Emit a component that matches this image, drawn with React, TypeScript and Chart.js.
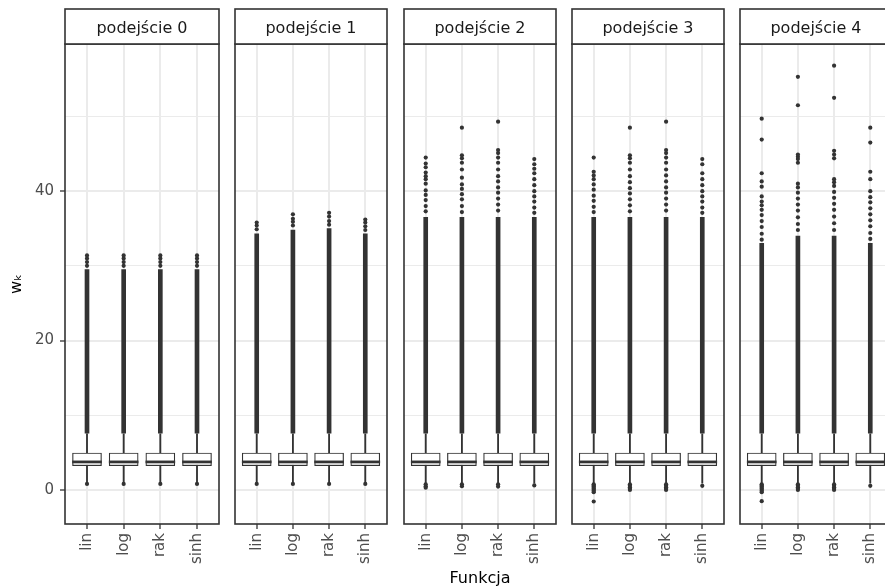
import React, { useEffect, useRef } from 'react';
import { Chart, registerables } from 'chart.js';

Chart.register(...registerables);

// ---------------- data ----------------
const panelTitles = ['podejście 0', 'podejście 1', 'podejście 2', 'podejście 3', 'podejście 4'];
const functions = ['lin', 'log', 'rak', 'sinh'];
const yTickLabels = [0, 20, 40];
const xTitle = 'Funkcja';
const yTitle = 'wₖ';

// box statistics [panel][function]
const whiskerLow = [
  [0.9, 0.9, 0.9, 0.9],
  [0.9, 0.9, 0.9, 0.9],
  [0.9, 0.9, 0.9, 0.9],
  [0.9, 0.9, 0.9, 0.9],
  [0.9, 0.9, 0.9, 0.9],
];
const q1 = [
  [3.25, 3.25, 3.25, 3.25],
  [3.25, 3.25, 3.25, 3.25],
  [3.25, 3.25, 3.25, 3.25],
  [3.25, 3.25, 3.25, 3.25],
  [3.25, 3.25, 3.25, 3.25],
];
const median = [
  [3.75, 3.75, 3.75, 3.75],
  [3.75, 3.75, 3.75, 3.75],
  [3.75, 3.75, 3.75, 3.75],
  [3.75, 3.75, 3.75, 3.75],
  [3.75, 3.75, 3.75, 3.75],
];
const q3 = [
  [4.95, 4.95, 4.95, 4.95],
  [4.95, 4.95, 4.95, 4.95],
  [4.95, 4.95, 4.95, 4.95],
  [4.95, 4.95, 4.95, 4.95],
  [4.95, 4.95, 4.95, 4.95],
];
const whiskerHigh = [
  [7.5, 7.5, 7.5, 7.5],
  [7.5, 7.5, 7.5, 7.5],
  [7.5, 7.5, 7.5, 7.5],
  [7.5, 7.5, 7.5, 7.5],
  [7.5, 7.5, 7.5, 7.5],
];

// densely packed outlier run (from -> to) [panel][function]
const denseFrom = [
  [7.6, 7.6, 7.6, 7.6],
  [7.6, 7.6, 7.6, 7.6],
  [7.6, 7.6, 7.6, 7.6],
  [7.6, 7.6, 7.6, 7.6],
  [7.6, 7.6, 7.6, 7.6],
];
const denseTo = [
  [29.5, 29.5, 29.5, 29.5],
  [34.3, 34.8, 35.0, 34.3],
  [36.5, 36.5, 36.5, 36.5],
  [36.5, 36.5, 36.5, 36.5],
  [33.0, 34.0, 34.0, 33.0],
];

// sparse upper outliers [panel][function]
const upperOutliers = [
  [
    [30.0, 30.5, 31.0, 31.4],
    [30.0, 30.5, 31.0, 31.4],
    [30.0, 30.5, 31.0, 31.4],
    [30.0, 30.5, 31.0, 31.4],
  ],
  [
    [34.9, 35.4, 35.8],
    [35.4, 35.9, 36.3, 36.9],
    [35.5, 36.0, 36.6, 37.1],
    [34.8, 35.3, 35.8, 36.2],
  ],
  [
    [37.3, 38.0, 38.8, 39.5, 40.1, 41.0, 41.6, 42.0, 42.5, 43.2, 43.7, 44.5],
    [37.2, 38.0, 38.9, 39.6, 40.3, 40.9, 41.8, 42.9, 43.8, 44.4, 44.8, 48.5],
    [37.4, 38.2, 39.0, 39.8, 40.5, 41.3, 42.0, 42.9, 43.8, 44.5, 45.1, 45.5, 49.3],
    [37.1, 37.8, 38.6, 39.3, 40.0, 40.8, 41.6, 42.4, 43.0, 43.6, 44.3],
  ],
  [
    [37.2, 37.9, 38.7, 39.4, 40.2, 40.9, 41.6, 42.1, 42.6, 44.5],
    [37.3, 38.1, 38.9, 39.7, 40.4, 41.2, 42.0, 42.9, 43.8, 44.4, 44.8, 48.5],
    [37.4, 38.2, 39.0, 39.8, 40.5, 41.3, 42.1, 42.9, 43.8, 44.5, 45.1, 45.5, 49.3],
    [37.1, 37.8, 38.6, 39.3, 40.0, 40.8, 41.6, 42.4, 43.6, 44.3],
  ],
  [
    [33.5, 34.3, 35.2, 36.0, 36.8, 37.5, 38.1, 38.6, 39.3, 40.6, 41.3, 42.4, 46.9, 49.7],
    [34.8, 35.6, 36.5, 37.4, 38.2, 39.0, 39.8, 40.5, 41.0, 43.8, 44.3, 44.6, 44.9, 51.5, 55.3],
    [34.8, 35.7, 36.6, 37.5, 38.3, 39.1, 39.9, 40.7, 41.2, 41.6, 44.4, 44.9, 45.4, 52.5, 56.8],
    [33.6, 34.4, 35.3, 36.1, 36.9, 37.7, 38.5, 39.2, 40.0, 41.6, 42.6, 46.5, 48.5],
  ],
];

// lower outliers [panel][function]
const lowerOutliers = [
  [[0.8], [0.8], [0.8], [0.8]],
  [[0.8], [0.8], [0.8], [0.8]],
  [[0.75, 0.5, 0.3], [0.75, 0.5], [0.75, 0.45], [0.6]],
  [
    [0.75, 0.6, 0.45, 0.3, 0.15, 0.0, -0.15, -0.3, -1.55],
    [0.75, 0.55, 0.35, 0.15, 0.0],
    [0.75, 0.55, 0.35, 0.15, 0.0],
    [0.55],
  ],
  [
    [0.75, 0.6, 0.45, 0.3, 0.15, 0.0, -0.15, -0.3, -1.5],
    [0.75, 0.55, 0.35, 0.15, 0.0],
    [0.75, 0.55, 0.35, 0.15, 0.0],
    [0.55],
  ],
];

// ---------------- layout / style ----------------
const W = 885;
const H = 587;
const PANEL_LEFT = [65, 233, 402, 570, 738];
const PANEL_W = 156;
const STRIP_TOP = 9;
const PANEL_TOP = 44;
const PANEL_BOTTOM = 524;
const FONT = '"DejaVu Sans", "Liberation Sans", sans-serif';
const DARK = '#333333';
const GRID = '#EBEBEB';

const facetPlugin = {
  id: 'facet',
  afterDraw(chart: any, _args: any, opts: any) {
    const { ctx, chartArea: a } = chart;
    ctx.save();
    ctx.strokeStyle = DARK;
    ctx.lineWidth = 1.6;
    ctx.strokeRect(a.left, a.top, a.right - a.left, a.bottom - a.top);
    ctx.fillStyle = '#ffffff';
    ctx.fillRect(a.left, STRIP_TOP, a.right - a.left, a.top - STRIP_TOP);
    ctx.strokeRect(a.left, STRIP_TOP, a.right - a.left, a.top - STRIP_TOP);
    ctx.fillStyle = '#1A1A1A';
    ctx.font = `16px ${FONT}`;
    ctx.textAlign = 'center';
    ctx.textBaseline = 'alphabetic';
    ctx.fillText(opts.text, (a.left + a.right) / 2, 32.5);
    ctx.restore();
  },
};

function buildConfig(p: number): any {
  const idx = functions.map((_, i) => i);
  const datasets: any[] = [
    {
      type: 'bar',
      order: 0,
      grouped: false,
      barThickness: 29,
      backgroundColor: DARK,
      data: idx.map((i) => ({ x: i, y: [median[p][i] - 0.14, median[p][i] + 0.14] })),
    },
    {
      type: 'bar',
      order: 1,
      grouped: false,
      barThickness: 29,
      backgroundColor: '#ffffff',
      borderColor: DARK,
      borderWidth: 1.2,
      borderSkipped: false,
      data: idx.map((i) => ({ x: i, y: [q1[p][i], q3[p][i]] })),
    },
    {
      type: 'bar',
      order: 2,
      grouped: false,
      barThickness: 1.2,
      backgroundColor: DARK,
      data: idx.map((i) => ({ x: i, y: [whiskerLow[p][i], whiskerHigh[p][i]] })),
    },
    {
      type: 'bar',
      order: 3,
      grouped: false,
      barThickness: 4,
      backgroundColor: DARK,
      data: idx.map((i) => ({ x: i, y: [denseFrom[p][i], denseTo[p][i]] })),
    },
    {
      type: 'scatter',
      order: 4,
      pointRadius: 2.1,
      pointBorderWidth: 0,
      pointBackgroundColor: DARK,
      data: idx.flatMap((i) =>
        [...upperOutliers[p][i], ...lowerOutliers[p][i]].map((v) => ({ x: i, y: v }))
      ),
    },
  ];

  return {
    type: 'bar',
    data: { datasets },
    plugins: [facetPlugin],
    options: {
      responsive: false,
      animation: false,
      events: [],
      layout: { padding: { top: PANEL_TOP, bottom: 0, left: p === 0 ? 0 : 2, right: 2 } },
      plugins: {
        legend: { display: false },
        tooltip: { enabled: false },
        facet: { text: panelTitles[p] },
      },
      scales: {
        x: {
          type: 'linear',
          min: -0.6,
          max: 3.6,
          offset: false,
          afterFit: (s: any) => {
            s.height = H - PANEL_BOTTOM;
          },
          border: { display: false },
          grid: {
            offset: false,
            color: GRID,
            lineWidth: 2,
            tickColor: DARK,
            tickLength: 5,
            tickWidth: 1.3,
          },
          ticks: {
            stepSize: 1,
            includeBounds: false,
            autoSkip: false,
            maxRotation: 90,
            minRotation: 90,
            padding: 4,
            color: '#4D4D4D',
            font: { family: FONT, size: 15 },
            callback: (v: number) => functions[v] ?? '',
          },
          title: {
            display: p === 2,
            text: xTitle,
            color: '#000000',
            font: { family: FONT, size: 16, lineHeight: 1 },
            padding: { top: 0, bottom: 0 },
          },
        },
        y: {
          type: 'linear',
          min: -4.56,
          max: 59.7,
          afterFit: (s: any) => {
            s.width = p === 0 ? PANEL_LEFT[0] : 0;
          },
          border: { display: false },
          grid: {
            color: GRID,
            lineWidth: (c: any) => (c.tick && c.tick.value % 20 === 0 ? 2 : 1.1),
            drawTicks: p === 0,
            tickLength: 5,
            tickWidth: 1.3,
            tickColor: (c: any) => (c.tick && c.tick.value % 20 === 0 ? DARK : 'rgba(0,0,0,0)'),
          },
          ticks: {
            display: p === 0,
            stepSize: 10,
            includeBounds: false,
            padding: 6,
            color: '#4D4D4D',
            font: { family: FONT, size: 15 },
            callback: (v: number) => (yTickLabels.includes(v) ? String(v) : ''),
          },
          title: {
            display: p === 0,
            text: yTitle,
            color: '#000000',
            font: { family: FONT, size: 16, lineHeight: 1 },
            padding: { top: 9, bottom: 0 },
          },
        },
      },
    },
  };
}

function Panel({ p }: { p: number }) {
  const ref = useRef<HTMLCanvasElement>(null);
  const left = p === 0 ? 0 : PANEL_LEFT[p] - 2;
  const width = p === 0 ? PANEL_LEFT[0] + PANEL_W + 2 : PANEL_W + 4;
  useEffect(() => {
    const chart = new Chart(ref.current as HTMLCanvasElement, buildConfig(p));
    return () => chart.destroy();
  }, [p]);
  return (
    <canvas
      ref={ref}
      width={width}
      height={H}
      style={{ position: 'absolute', left, top: 0, width, height: H, display: 'block' }}
    />
  );
}

export default function App() {
  return (
    <div
      style={{
        position: 'fixed',
        left: 0,
        top: 0,
        width: W,
        height: H,
        overflow: 'hidden',
        background: '#ffffff',
      }}
    >
      {panelTitles.map((_, p) => (
        <Panel key={p} p={p} />
      ))}
    </div>
  );
}
